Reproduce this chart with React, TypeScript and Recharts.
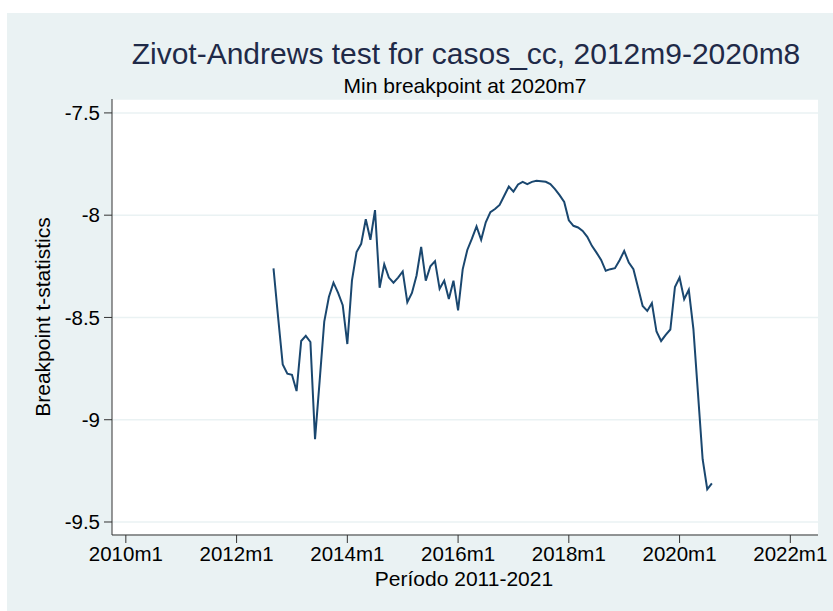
import React from "react";
import { LineChart, Line, XAxis, YAxis, CartesianGrid } from "recharts";

// Zivot-Andrews breakpoint t-statistics, monthly from 2012m9 (month 32 counted from 2010m1)
const startMonth = 32;
const tStats = [
  -8.26, -8.5, -8.73, -8.775, -8.78, -8.86, -8.615, -8.59, -8.62, -9.095,
  -8.81, -8.52, -8.4, -8.33, -8.38, -8.44, -8.63, -8.32, -8.18, -8.14,
  -8.02, -8.12, -7.975, -8.355, -8.24, -8.305, -8.33, -8.305, -8.275, -8.425,
  -8.38, -8.295, -8.155, -8.32, -8.25, -8.225, -8.36, -8.32, -8.41, -8.32,
  -8.465, -8.265, -8.17, -8.115, -8.055, -8.12, -8.035, -7.985, -7.97, -7.95,
  -7.905, -7.86, -7.885, -7.85, -7.837, -7.848, -7.837, -7.832, -7.834, -7.837,
  -7.848, -7.873, -7.902, -7.935, -8.025, -8.052, -8.06, -8.077, -8.106, -8.15,
  -8.183, -8.219, -8.272, -8.264, -8.259, -8.22, -8.175, -8.232, -8.264, -8.354,
  -8.444, -8.468, -8.43, -8.569, -8.615, -8.585, -8.559, -8.351, -8.305, -8.411,
  -8.365, -8.557, -8.875, -9.193, -9.34, -9.311,
];

const xTicks = [0, 24, 48, 72, 96, 120, 144];
const yTicks = [-9.5, -9, -8.5, -8, -7.5];

const title = "Zivot-Andrews test for casos_cc, 2012m9-2020m8";
const subtitle = "Min breakpoint at 2020m7";
const xTitle = "Período 2011-2021";
const yTitle = "Breakpoint t-statistics";

const FONT = "'Liberation Sans', Arial, sans-serif";

const chartData = tStats.map((v, i) => ({ month: startMonth + i, t: v }));

const monthLabel = (m: number) => `${2010 + Math.floor(m / 12)}m${(m % 12) + 1}`;

export default function App() {
  return (
    <div style={{ position: "absolute", left: 0, top: 0, width: 833, height: 611, background: "#fff" }}>
      <div style={{ position: "absolute", left: 7, top: 13, width: 826, height: 598, background: "#EAF2F3" }} />
      <LineChart
        width={833}
        height={611}
        data={chartData}
        margin={{ top: 99, right: 15, bottom: 0, left: 0 }}
        style={{ position: "absolute", left: 0, top: 0 }}
      >
        <CartesianGrid vertical={false} fill="#fff" stroke="#EAF2F3" strokeWidth={1.5} />
        <XAxis
          dataKey="month"
          type="number"
          domain={[-3, 150]}
          allowDataOverflow
          ticks={xTicks}
          tickFormatter={monthLabel}
          height={76}
          tickSize={8}
          tickMargin={3}
          stroke="#333"
          tick={{ fill: "#000", fontSize: 20.5, fontFamily: FONT }}
        />
        <YAxis
          type="number"
          domain={[-9.5636, -7.432]}
          allowDataOverflow
          ticks={yTicks}
          width={112}
          tickSize={8}
          tickMargin={4}
          stroke="#333"
          tick={{ fill: "#000", fontSize: 20.5, fontFamily: FONT }}
        />
        <Line
          type="linear"
          dataKey="t"
          stroke="#1A476F"
          strokeWidth={2}
          dot={false}
          isAnimationActive={false}
        />
      </LineChart>
      <svg width={833} height={611} style={{ position: "absolute", left: 0, top: 0, pointerEvents: "none" }}>
        <text x={466} y={64} textAnchor="middle" fontSize={30} fontFamily={FONT} fill="#1F2A48">
          {title}
        </text>
        <text x={465} y={93} textAnchor="middle" fontSize={21} fontFamily={FONT} fill="#000">
          {subtitle}
        </text>
        <text x={464} y={586} textAnchor="middle" fontSize={21} fontFamily={FONT} fill="#000">
          {xTitle}
        </text>
        <text
          x={50}
          y={317}
          textAnchor="middle"
          fontSize={21}
          fontFamily={FONT}
          fill="#000"
          transform="rotate(-90 50 317)"
        >
          {yTitle}
        </text>
      </svg>
    </div>
  );
}
